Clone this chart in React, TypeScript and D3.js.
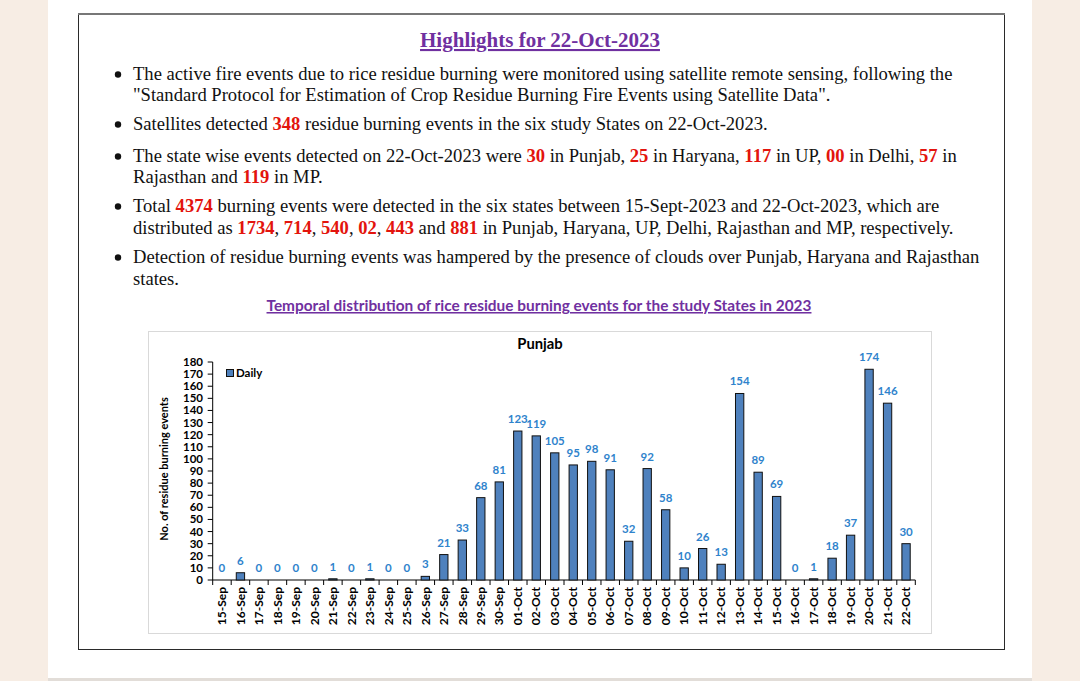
import React from "react";
import * as d3 from "d3";

const dates: string[] = [
  "15-Sep","16-Sep","17-Sep","18-Sep","19-Sep","20-Sep","21-Sep","22-Sep","23-Sep","24-Sep",
  "25-Sep","26-Sep","27-Sep","28-Sep","29-Sep","30-Sep","01-Oct","02-Oct","03-Oct","04-Oct",
  "05-Oct","06-Oct","07-Oct","08-Oct","09-Oct","10-Oct","11-Oct","12-Oct","13-Oct","14-Oct",
  "15-Oct","16-Oct","17-Oct","18-Oct","19-Oct","20-Oct","21-Oct","22-Oct",
];
const daily: number[] = [
  0, 6, 0, 0, 0, 0, 1, 0, 1, 0,
  0, 3, 21, 33, 68, 81, 123, 119, 105, 95,
  98, 91, 32, 92, 58, 10, 26, 13, 154, 89,
  69, 0, 1, 18, 37, 174, 146, 30,
];
const yTicks: number[] = d3.range(0, 181, 10);

const heading = "Highlights for 22-Oct-2023";
const chartHeading = "Temporal distribution of rice residue burning events for the study States in 2023";
const chartTitle = "Punjab";
const yTitle = "No. of residue burning events";
const legendLabel = "Daily";

type Seg = { t: string; red?: boolean };
const bulletLines: { segs: Seg[]; bullet: boolean }[] = [
  { bullet: true, segs: [{ t: "The active fire events due to rice residue burning were monitored using satellite remote sensing, following the" }] },
  { bullet: false, segs: [{ t: "\"Standard Protocol for Estimation of Crop Residue Burning Fire Events using Satellite Data\"." }] },
  { bullet: true, segs: [{ t: "Satellites detected " }, { t: "348", red: true }, { t: " residue burning events in the six study States on 22-Oct-2023." }] },
  { bullet: true, segs: [
    { t: "The state wise events detected on 22-Oct-2023 were " }, { t: "30", red: true }, { t: " in Punjab, " },
    { t: "25", red: true }, { t: " in Haryana, " }, { t: "117", red: true }, { t: " in UP, " },
    { t: "00", red: true }, { t: " in Delhi, " }, { t: "57", red: true }, { t: " in" },
  ] },
  { bullet: false, segs: [{ t: "Rajasthan and " }, { t: "119", red: true }, { t: " in MP." }] },
  { bullet: true, segs: [
    { t: "Total " }, { t: "4374", red: true },
    { t: " burning events were detected in the six states between 15-Sept-2023 and 22-Oct-2023, which are" },
  ] },
  { bullet: false, segs: [
    { t: "distributed as " }, { t: "1734", red: true }, { t: ", " }, { t: "714", red: true }, { t: ", " },
    { t: "540", red: true }, { t: ", " }, { t: "02", red: true }, { t: ", " }, { t: "443", red: true },
    { t: " and " }, { t: "881", red: true }, { t: " in Punjab, Haryana, UP, Delhi, Rajasthan and MP, respectively." },
  ] },
  { bullet: true, segs: [{ t: "Detection of residue burning events was hampered by the presence of clouds over Punjab, Haryana and Rajasthan" }] },
  { bullet: false, segs: [{ t: "states." }] },
];
const lineBaselines = [80, 101, 130, 162, 183, 212, 234, 263, 285];

export default function App() {
  const W = 1080, H = 681;
  const x = d3.scaleBand<string>().domain(dates).range([212.7, 915.3]).paddingInner(0.55).paddingOuter(0.275);
  const y = d3.scaleLinear().domain([0, 180]).range([580, 362]);
  const step = x.step();
  const axisX0 = 212.7, axisX1 = 915.3;
  const purple = "#7030a0";
  const red = "#e3140d";
  const labelBlue = "#2f83cc";
  const cf = "Lato, 'Open Sans', sans-serif";
  const serif = "'Liberation Serif', 'Times New Roman', serif";

  return (
    <div style={{ position: "absolute", left: 0, top: 0, width: W, height: H }}>
      <svg width={W} height={H} viewBox={`0 0 ${W} ${H}`} style={{ display: "block" }}>
        <rect x={0} y={0} width={W} height={H} fill="#f7ede4" />
        <rect x={48} y={0} width={984} height={H} fill="#ffffff" />
        <rect x={48} y={678} width={984} height={3} fill="#e2ddd8" />
        <rect x={78.5} y={14.5} width={926} height={635} fill="none" stroke="#2a2a2a" strokeWidth={1} />
        <line x1={78} x2={1005} y1={14} y2={14} stroke="#777" strokeWidth={2} />
        <text x={540} y={47} textAnchor="middle" fontFamily={serif} fontWeight="bold" fontSize={21} fill={purple} textDecoration="underline">{heading}</text>
        {bulletLines.map((ln, i) => (
          <g key={i}>
            {ln.bullet && <circle cx={118} cy={lineBaselines[i] - 5.5} r={3.2} fill="#111" />}
            <text x={133} y={lineBaselines[i]} fontFamily={serif} fontSize={18.6} fill="#111">
              {ln.segs.map((s, j) => (
                <tspan key={j} fill={s.red ? red : "#111"} fontWeight={s.red ? "bold" : "normal"}>{s.t}</tspan>
              ))}
            </text>
          </g>
        ))}
        <text x={539} y={311} textAnchor="middle" fontFamily={cf} fontWeight="bold" fontSize={15.4} fill={purple} textDecoration="underline">{chartHeading}</text>
        <rect x={148.5} y={331.5} width={783} height={302} fill="#fff" stroke="#d9d9d9" strokeWidth={1} />
        <text x={540} y={349} textAnchor="middle" fontFamily={cf} fontWeight="bold" fontSize={14.8} fill="#000">{chartTitle}</text>
        <line x1={axisX0} x2={axisX0} y1={y(180)} y2={y(0)} stroke="#000" strokeWidth={1} />
        {yTicks.map((t) => (
          <g key={t}>
            <line x1={axisX0 - 5} x2={axisX0} y1={y(t)} y2={y(t)} stroke="#000" />
            <text x={203} y={y(t)} dy="0.35em" textAnchor="end" fontFamily={cf} fontWeight="bold" fontSize={11.5} fill="#000">{t}</text>
          </g>
        ))}
        <text transform={`translate(164,${y(90) - 2}) rotate(-90)`} textAnchor="middle" dy="0.35em" fontFamily={cf} fontWeight="bold" fontSize={11} fill="#000">{yTitle}</text>
        <line x1={axisX0} x2={axisX1} y1={y(0)} y2={y(0)} stroke="#000" strokeWidth={1} />
        {d3.range(dates.length + 1).map((i) => (
          <line key={i} x1={axisX0 + i * step} x2={axisX0 + i * step} y1={y(0)} y2={y(0) + 5} stroke="#000" />
        ))}
        {dates.map((d) => (
          <text key={d} transform={`translate(${(x(d) as number) + x.bandwidth() / 2},587) rotate(-90)`} textAnchor="end" dy="0.35em" fontFamily={cf} fontWeight="bold" fontSize={12} fill="#000">{d}</text>
        ))}
        {dates.map((d, i) => (
          daily[i] > 0 ? (
            <rect key={d} x={x(d) as number} y={y(daily[i])} width={x.bandwidth()} height={y(0) - y(daily[i])} fill="#4f81bd" stroke="#111" strokeWidth={1} />
          ) : null
        ))}
        {dates.map((d, i) => (
          <text key={"l" + d} x={(x(d) as number) + x.bandwidth() / 2} y={y(daily[i]) - 8} textAnchor="middle" fontFamily={cf} fontWeight="bold" fontSize={11.5} fill={labelBlue}>{daily[i]}</text>
        ))}
        <rect x={226.5} y={369.5} width={7} height={7} fill="#4f81bd" stroke="#111" strokeWidth={1} />
        <text x={236} y={377} fontFamily={cf} fontWeight="bold" fontSize={11.5} fill="#000">{legendLabel}</text>
      </svg>
    </div>
  );
}
